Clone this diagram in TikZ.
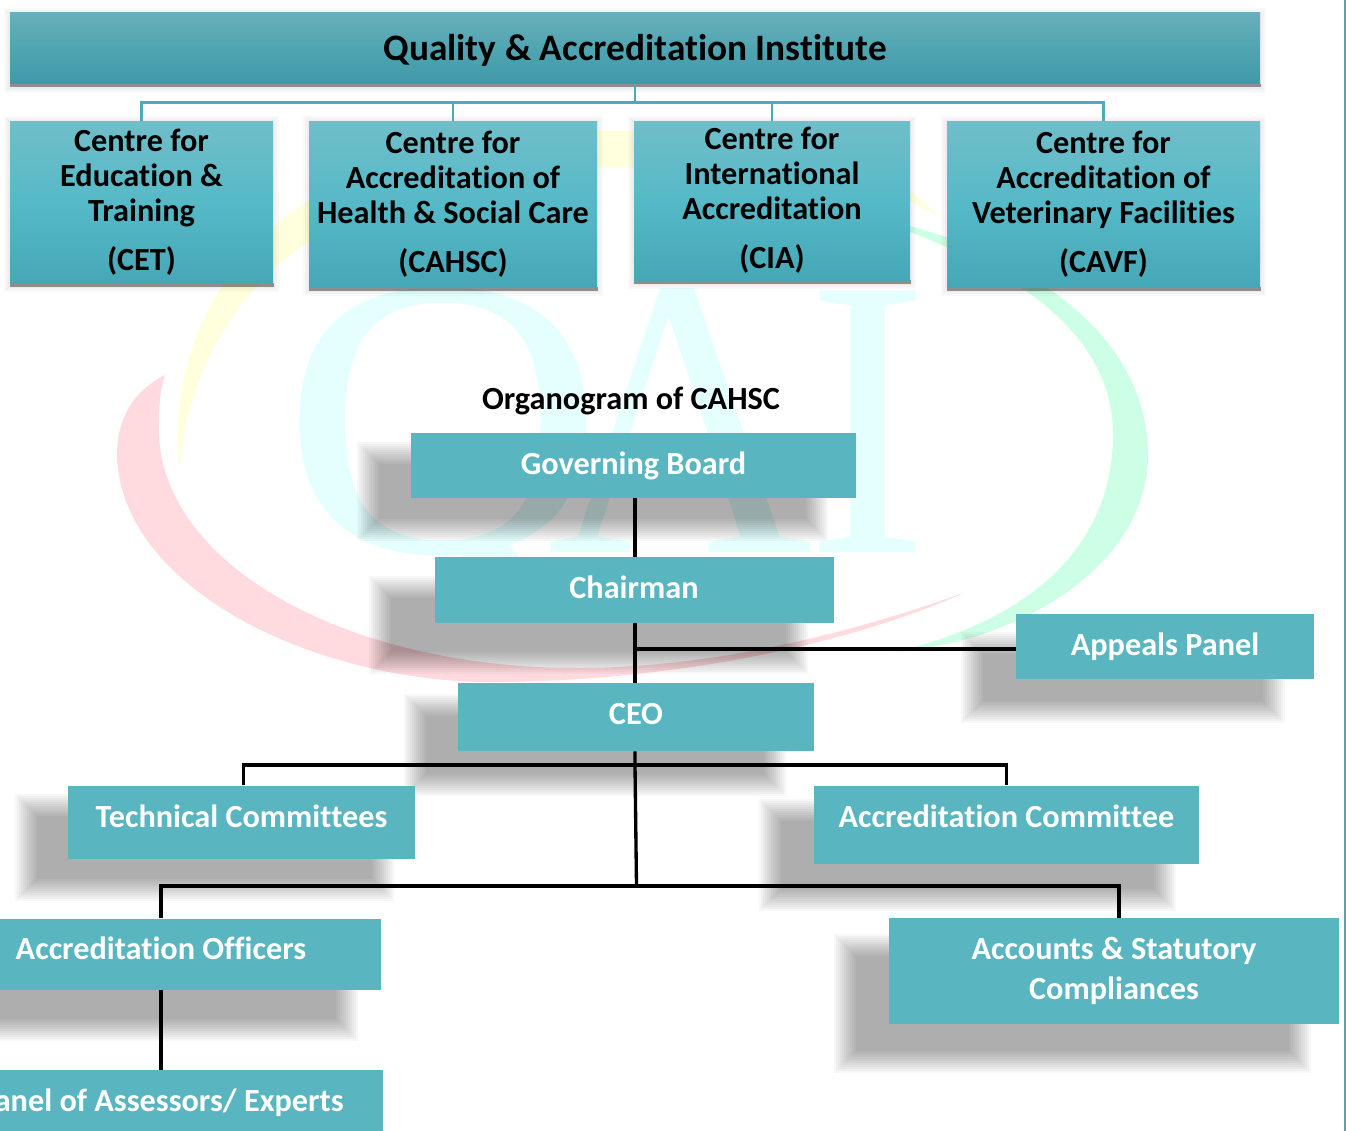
\documentclass[tikz,border=0pt]{standalone}
\usepackage{fontspec}
\setmainfont[Ligatures=NoCommon]{Carlito}
\newfontfamily\markfont{Liberation Serif}
\usetikzlibrary{positioning}
\definecolor{tealbox}{RGB}{89,182,193}
\definecolor{headtop}{RGB}{105,175,186}
\definecolor{headmid}{RGB}{80,165,178}
\definecolor{headbot}{RGB}{64,153,167}
\definecolor{centretop}{RGB}{112,190,201}
\definecolor{centremid}{RGB}{86,185,199}
\definecolor{centrebot}{RGB}{70,168,182}
\definecolor{tealline}{RGB}{75,172,184}
\definecolor{edgeline}{RGB}{90,160,175}
\definecolor{markcyan}{RGB}{229,255,255}
\definecolor{markyellow}{RGB}{255,255,222}
\definecolor{markgreen}{RGB}{204,255,230}
\definecolor{markred}{RGB}{255,218,222}
\tikzset{
  headbox/.style={rectangle,minimum width=1250*0.75pt,minimum height=71*0.75pt,inner sep=0pt,
    top color=headtop,bottom color=headbot,middle color=headmid,
    text=black,text height=20pt,text depth=2pt,font=\bfseries\fontsize{28}{32}\selectfont},
  centrebox/.style={rectangle,inner sep=0pt,align=center,text=black,
    top color=centretop,bottom color=centrebot,middle color=centremid,
    font=\bfseries\fontsize{24.2}{26.3}\selectfont},
  orgbox/.style={rectangle,inner sep=0pt,align=center,text=white,fill=tealbox,
    font=\bfseries\fontsize{24.2}{30}\selectfont},
  orgline/.style={text height=16pt,text depth=#1},
  treeline/.style={draw=black,line width=2.5pt},
  branchline/.style={draw=tealline,line width=1.6pt},
  markletter/.style={inner sep=0pt,text=markcyan,font=\markfont\fontsize{300}{300}\selectfont},
}
% soft shadow: x1,y1,x2,y2
\newcommand{\softshadow}[4]{%
  \foreach \grow in {11,9,7,5,3,1,-1,-3,-5,-7,-9,-11}{%
    \fill[black,opacity=0.03] (#1-\grow,#2-\grow) rectangle (#3+\grow,#4+\grow);}}
% thin shadow under the top boxes
\newcommand{\hardshadow}[4]{%
  \foreach \grow in {6,4,2}{%
    \fill[black,opacity=0.025] (#1-\grow,#2+1-\grow) rectangle (#3+\grow,#4+3+\grow);}
  \fill[black,opacity=0.4] (#1,#4) rectangle (#3+1,#4+3.5);}
\begin{document}
\begin{tikzpicture}[x=0.75pt,y=0.75pt,yscale=-1,xscale=1]
\useasboundingbox (0,0) rectangle (1346,1131);

% Page edge
\fill[edgeline] (1343.5,0) rectangle (1346,1131);

% Watermark letters
\node[markletter,xscale=1.12,anchor=base] (markq) at (443,552) {Q};
\node[markletter,xscale=0.92,anchor=base] (marka) at (680,552) {A};
\node[markletter,xscale=0.92,anchor=base] (marki) at (868,552) {I};

% Watermark swooshes
\fill[markyellow] (179,468) .. controls (165,340) and (240,130) .. (600,131) .. controls (760,130) and (880,150) .. (938,216) .. controls (880,180) and (760,165) .. (620,168) .. controls (360,160) and (200,270) .. (179,468) -- cycle;
\fill[markgreen] (910,226) .. controls (1000,250) and (1148,320) .. (1148,455) .. controls (1148,560) and (1030,640) .. (895,652) .. controls (1010,625) and (1115,560) .. (1113,430) .. controls (1110,330) and (1010,270) .. (910,232) -- cycle;
\fill[markred] (165,375) .. controls (125,395) and (117,430) .. (117,455) .. controls (120,590) and (320,685) .. (500,682) .. controls (690,680) and (860,640) .. (966,592) .. controls (860,630) and (720,668) .. (577,668) .. controls (340,668) and (155,560) .. (159,425) .. controls (159,405) and (160,390) .. (165,375) -- cycle;

% Shadows
\softshadow{368}{453}{817}{530}
\softshadow{380}{587}{797}{663}
\softshadow{415}{705}{775}{785}
\softshadow{972}{643}{1274}{712}
\softshadow{26}{805}{383}{890}
\softshadow{770}{810}{1165}{900}
\softshadow{-40}{950}{347}{1030}
\softshadow{845}{945}{1300}{1062}
\hardshadow{10}{13}{1260}{84}
\hardshadow{10}{121}{273}{283}
\hardshadow{309}{121}{597}{287}
\hardshadow{634}{121}{910}{280}
\hardshadow{947}{121}{1260}{287}

% Top boxes
\node[headbox] (qai) at (635,48.5) {Quality \& Accreditation Institute};
\node[centrebox,minimum width=263*0.75pt,minimum height=162*0.75pt] (cet) at (141.5,202) {Centre for\\Education \&\\Training\\[10.5pt](CET)};
\node[centrebox,minimum width=288*0.75pt,minimum height=166*0.75pt] (cahsc) at (453,204) {Centre for\\Accreditation of\\Health \& Social Care\\[10.5pt](CAHSC)};
\node[centrebox,minimum width=276*0.75pt,minimum height=159*0.75pt] (cia) at (772,200.5) {Centre for\\International\\Accreditation\\[10.5pt](CIA)};
\node[centrebox,minimum width=313*0.75pt,minimum height=166*0.75pt] (cavf) at (1103.5,204) {Centre for\\Accreditation of\\Veterinary Facilities\\[10.5pt](CAVF)};

% Top branches
\coordinate (qaifork) at (635,102.5);
\draw[branchline] (qai.south) -- (qaifork);
\draw[branchline] (cet.north) |- (qaifork);
\draw[branchline] (cavf.north) |- (qaifork);
\draw[branchline] (cahsc.north) -- (cahsc.north |- qaifork);
\draw[branchline] (cia.north) -- (cia.north |- qaifork);

% Organogram
\node[font=\bfseries\fontsize{24.2}{26}\selectfont] (orgtitle) at (631,401) {Organogram of CAHSC};
\node[orgbox,orgline=3.2pt,minimum width=445*0.75pt,minimum height=65*0.75pt] (board) at (633.5,465.5) {Governing Board};
\node[orgbox,orgline=4pt,minimum width=399*0.75pt,minimum height=66*0.75pt] (chair) at (634,590) {Chairman};
\node[orgbox,orgline=5.5pt,minimum width=356*0.75pt,minimum height=68*0.75pt] (ceo) at (636,717) {CEO};
\node[orgbox,orgline=3.2pt,minimum width=298*0.75pt,minimum height=65*0.75pt] (appeals) at (1165,646.5) {Appeals Panel};
\node[orgbox,orgline=8.5pt,minimum width=347*0.75pt,minimum height=73*0.75pt] (tech) at (241.5,822) {Technical Committees};
\node[orgbox,orgline=12.2pt,minimum width=385*0.75pt,minimum height=78*0.75pt] (acccom) at (1006.5,824.5) {Accreditation Committee};
\node[orgbox,orgline=8.5pt,minimum width=440*0.75pt,minimum height=71*0.75pt] (officers) at (161,954) {Accreditation Officers};
\node[orgbox,minimum width=450*0.75pt,minimum height=106*0.75pt] (accounts) at (1114,971) {Accounts \& Statutory\\Compliances};
\node[orgbox,orgline=1pt,minimum width=444*0.75pt,minimum height=62*0.75pt] (panel) at (161,1101) {Panel of Assessors/ Experts};

% Organogram connectors
\coordinate (ceobar) at (635,765);
\coordinate (ceofoot) at (636.5,886);
\coordinate (chairtap) at (635,649);
\draw[treeline] (board.south -| chairtap) -- (chair.north -| chairtap);
\draw[treeline] (chair.south -| chairtap) -- (ceo.north -| chairtap);
\draw[treeline,line width=3pt] (chairtap) -- (appeals.west |- chairtap);
\draw[treeline] (ceo.south -| ceobar) -- (ceobar) -- (ceofoot);
\draw[treeline] (tech.north -| 243.5,0) |- (ceobar) -| (acccom.north);
\draw[treeline] (officers.north) |- (ceofoot) -| (accounts.north -| 1119,0);
\draw[treeline] (officers) -- (panel);
\end{tikzpicture}
\end{document}
